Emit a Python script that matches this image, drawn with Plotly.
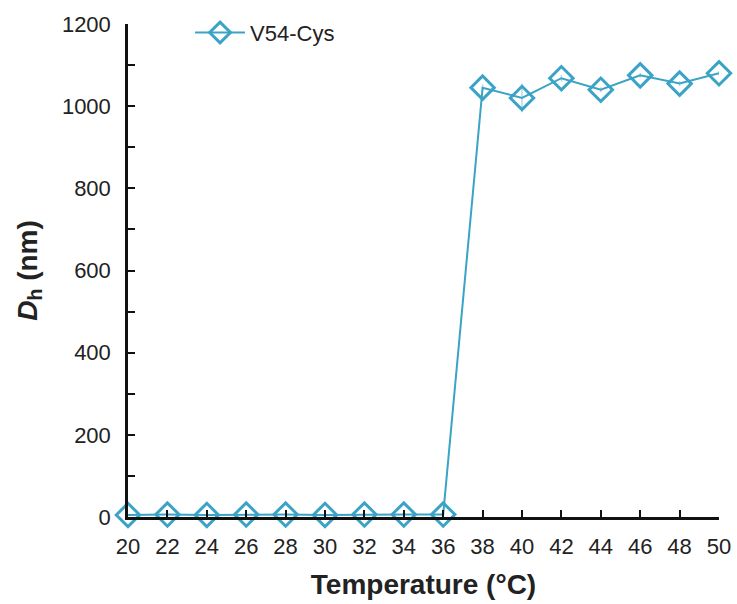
import plotly.graph_objects as go

temperature = [20, 22, 24, 26, 28, 30, 32, 34, 36, 38, 40, 42, 44, 46, 48, 50]
dh_nm = [5, 6, 5, 6, 6, 5, 6, 6, 6, 1045, 1020, 1068, 1040, 1075, 1055, 1080]
dh_err = [2, 2, 2, 2, 2, 2, 2, 2, 2, 8, 35, 8, 6, 6, 6, 6]
series_name = "V54-Cys"
color = "#3aa3c6"

fig = go.Figure()
fig.add_trace(go.Scatter(
    x=temperature, y=dh_nm, name=series_name, mode="lines+markers",
    line=dict(color=color, width=2),
    marker=dict(symbol="diamond-open", size=18, color=color, line=dict(width=3, color=color)),
    error_y=dict(type="data", array=dh_err, visible=True, color="#b5dbe8", thickness=1.5, width=0),
    cliponaxis=False,
))

font = "Liberation Sans, Arial, sans-serif"
fig.update_layout(
    width=737, height=604,
    margin=dict(l=128, r=18, t=21, b=87),
    paper_bgcolor="white", plot_bgcolor="white",
    font=dict(family=font, size=22, color="#222"),
    showlegend=True,
    legend=dict(x=0.105, y=1.025, xanchor="left", yanchor="top", bgcolor="rgba(0,0,0,0)",
                font=dict(size=22, family=font, color="#222"), itemwidth=50),
    xaxis=dict(
        range=[20, 50], tickmode="array", tickvals=temperature, automargin=False,
        ticks="inside", ticklen=7, tickwidth=2, tickcolor="#111",
        showline=True, linecolor="#111", linewidth=3, showgrid=False, zeroline=False,
        tickfont=dict(size=22, family=font), ticklabelstandoff=8, tickangle=0,
        title=dict(text="<b>Temperature (°C)</b>", font=dict(size=28, family=font), standoff=16),
    ),
    yaxis=dict(
        range=[0, 1200], tickmode="linear", dtick=200, automargin=False,
        ticks="inside", ticklen=7, tickwidth=2, tickcolor="#111",
        minor=dict(ticks="inside", dtick=100, ticklen=7, tickwidth=2, tickcolor="#111"),
        showline=True, linecolor="#111", linewidth=2.5, showgrid=False, zeroline=False,
        tickfont=dict(size=22, family=font), ticklabelstandoff=10,
        title=dict(text="<b><i>D</i><sub>h</sub> (nm)</b>", font=dict(size=28, family=font), standoff=17),
    ),
)

fig.write_html("out.html")
